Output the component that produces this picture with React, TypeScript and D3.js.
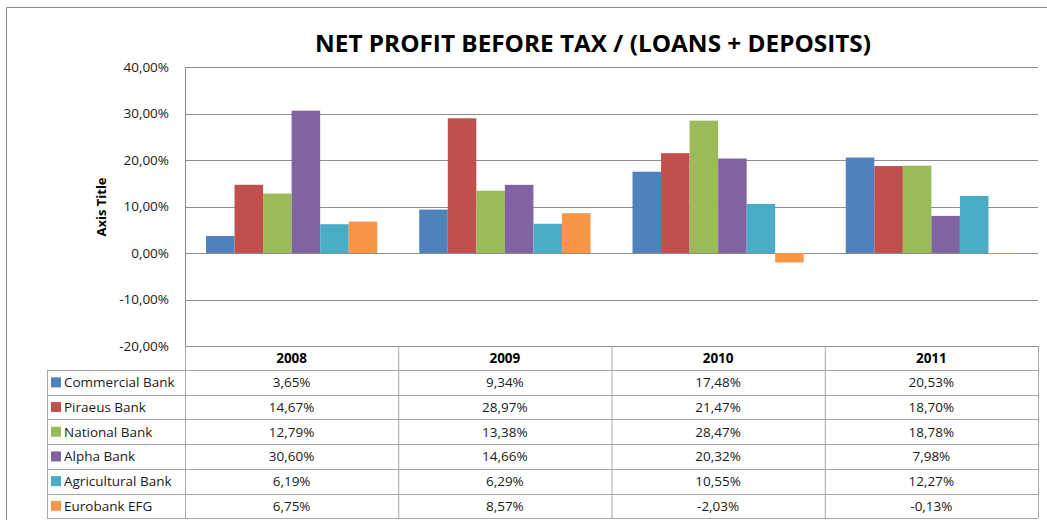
import React from "react";
import * as d3 from "d3";

const categories = ["2008", "2009", "2010", "2011"];
const seriesNames = ["Commercial Bank", "Piraeus Bank", "National Bank", "Alpha Bank", "Agricultural Bank", "Eurobank EFG"];
const commercial = [3.65, 9.34, 17.48, 20.53];
const piraeus = [14.67, 28.97, 21.47, 18.7];
const national = [12.79, 13.38, 28.47, 18.78];
const alpha = [30.6, 14.66, 20.32, 7.98];
const agricultural = [6.19, 6.29, 10.55, 12.27];
const eurobank = [6.75, 8.57, -2.03, -0.13];
const yTicks = [-20, -10, 0, 10, 20, 30, 40];
const colors = ["#4F81BD", "#C0504D", "#9BBB59", "#8064A2", "#4BACC6", "#F79646"];

const series = [commercial, piraeus, national, alpha, agricultural, eurobank];

const FONT = "'Open Sans', 'Liberation Sans', sans-serif";
const fmt = (v: number) => v.toFixed(2).replace(".", ",") + "%";

export default function App() {
  const W = 1047, H = 520;
  const plotL = 185, plotR = 1038, plotT = 67, plotB = 346;
  const y = d3.scaleLinear().domain([-20, 40]).range([plotB, plotT]);
  const x0 = d3.scaleBand().domain(categories).range([plotL, plotR]).paddingInner(0).paddingOuter(0);
  const gapFrac = 42 / 213.25;
  const x1 = d3
    .scaleBand()
    .domain(seriesNames)
    .range([x0.bandwidth() * gapFrac / 2, x0.bandwidth() * (1 - gapFrac / 2)])
    .padding(0);
  const tableL = 47;
  const headerH = 24;
  const rowH = 24.7;
  const tableTop = plotB;
  const rowsTop = tableTop + headerH;
  const tableBottom = rowsTop + rowH * seriesNames.length;
  const grid = "#8c8c8c";
  const tblc = "#a6a6a6";
  const fs = 13.5;

  return (
    <svg width={W} height={H} style={{ position: "absolute", left: 0, top: 0, background: "#fff" }} fontFamily={FONT}>
      <rect x={0} y={0} width={W} height={H} fill="#fff" />
      {/* outer border */}
      <path d={`M6.5,${H} V7.5 H${W}`} fill="none" stroke="#8a8a8a" strokeWidth={1} />
      {/* title */}
      <text x={593} y={52} textAnchor="middle" fontSize={23} fontWeight="bold" fill="#000" textLength={556} lengthAdjust="spacingAndGlyphs">
        NET PROFIT BEFORE TAX / (LOANS + DEPOSITS)
      </text>
      {/* gridlines */}
      {yTicks.map((t) => (
        <g key={t}>
          <line x1={plotL} x2={plotR} y1={Math.round(y(t)) + 0.5} y2={Math.round(y(t)) + 0.5} stroke={grid} strokeWidth={1} />
          <text x={169} y={y(t) + 4.5} textAnchor="end" fontSize={fs} fill="#1a1a1a">
            {fmt(t)}
          </text>
        </g>
      ))}
      <line x1={plotL + 0.5} x2={plotL + 0.5} y1={plotT} y2={plotB} stroke={grid} />
      {/* axis title */}
      <text transform={`translate(106,207) rotate(-90)`} textAnchor="middle" fontSize={13} fontWeight="bold" fill="#000">
        Axis Title
      </text>
      {/* bars */}
      {categories.map((c, ci) => (
        <g key={c} transform={`translate(${x0(c)},0)`}>
          {series.map((s, si) => {
            const v = s[ci];
            const top = y(Math.max(0, v));
            const h = Math.abs(y(v) - y(0));
            return <rect key={si} x={x1(seriesNames[si])} y={top} width={x1.bandwidth()} height={Math.max(h, 0.6)} fill={colors[si]} />;
          })}
        </g>
      ))}
      {/* data table */}
      {categories.map((c) => (
        <line key={"v" + c} x1={(x0(c) as number) + 0.5} x2={(x0(c) as number) + 0.5} y1={tableTop} y2={tableBottom} stroke={tblc} />
      ))}
      <line x1={plotR + 0.5} x2={plotR + 0.5} y1={tableTop} y2={tableBottom} stroke={tblc} />
      <line x1={tableL + 0.5} x2={tableL + 0.5} y1={rowsTop} y2={tableBottom} stroke={tblc} />
      {seriesNames.map((n, i) => (
        <line key={"h" + n} x1={tableL} x2={plotR} y1={Math.round(rowsTop + rowH * i) + 0.5} y2={Math.round(rowsTop + rowH * i) + 0.5} stroke={tblc} />
      ))}
      <line x1={tableL} x2={plotR} y1={Math.round(tableBottom) + 0.5} y2={Math.round(tableBottom) + 0.5} stroke={tblc} />
      {categories.map((c) => (
        <text key={"t" + c} x={(x0(c) as number) + x0.bandwidth() / 2} y={tableTop + headerH / 2 + 5} textAnchor="middle" fontSize={fs} fontWeight="bold" fill="#000">
          {c}
        </text>
      ))}
      {seriesNames.map((n, i) => {
        const cy = rowsTop + rowH * i + rowH / 2;
        return (
          <g key={"r" + n}>
            <rect x={51} y={cy - 5} width={10} height={10} fill={colors[i]} />
            <text x={64} y={cy + 5} fontSize={fs} fill="#1a1a1a">
              {n}
            </text>
            {categories.map((c, ci) => (
              <text key={c} x={(x0(c) as number) + x0.bandwidth() / 2} y={cy + 5} textAnchor="middle" fontSize={fs} fill="#1a1a1a">
                {fmt(series[i][ci])}
              </text>
            ))}
          </g>
        );
      })}
    </svg>
  );
}
